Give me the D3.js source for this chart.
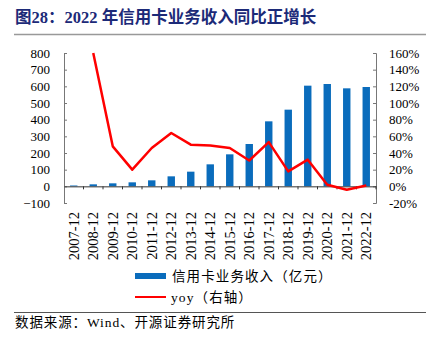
<!DOCTYPE html>
<html><head><meta charset="utf-8">
<script src="https://cdn.jsdelivr.net/npm/d3@7"></script>
<style>
body{margin:0;background:#fff;}
svg{display:block;}
text{font-family:"Times New Roman","Liberation Serif","Noto Sans CJK SC",serif;}
</style></head>
<body><svg id="c" width="432" height="342"></svg>
<script>
const categories = ["2007-12","2008-12","2009-12","2010-12","2011-12","2012-12","2013-12","2014-12","2015-12","2016-12","2017-12","2018-12","2019-12","2020-12","2021-12","2022-12"];
const revenue = [5,12,18,24,36,60,88,132,192,254,390,460,604,614,588,596];
const yoy = [null,160,48,20,46,64,50,49,46,31,53,18,32,2,-4,1];
const leftTicks = [-100,0,100,200,300,400,500,600,700,800];
const rightTicks = [-20,0,20,40,60,80,100,120,140,160];

const svg = d3.select("#c");
const L = 64, R = 376, T = 53, B = 203;

// title
svg.append("text").attr("x",15).attr("y",23).attr("font-size",16.5).attr("font-weight","bold")
  .attr("fill","#1c2a78").text("图28：2022 年信用卡业务收入同比正增长");
svg.append("line").attr("x1",14).attr("x2",426).attr("y1",34.5).attr("y2",34.5).attr("stroke","#999").attr("stroke-width",1.5);

const x = d3.scaleBand().domain(categories).range([L,R]).paddingInner(0.62).paddingOuter(0.31);
const xb = d3.scaleBand().domain(categories).range([L,R]);
const yL = d3.scaleLinear().domain([-100,800]).range([B,T]);
const yR = d3.scaleLinear().domain([-20,160]).range([B,T]);

// bars
svg.append("g").selectAll("rect").data(revenue).join("rect")
  .attr("x",(d,i)=>x(categories[i])).attr("width",x.bandwidth())
  .attr("y",d=>yL(Math.max(0,d))).attr("height",d=>Math.abs(yL(d)-yL(0)))
  .attr("fill","#0a6cbc");

// left axis
const gl = svg.append("g").attr("transform",`translate(${L},0)`)
  .call(d3.axisLeft(yL).tickValues(leftTicks).tickSize(-3).tickPadding(14));
// right axis
const gr = svg.append("g").attr("transform",`translate(${R},0)`)
  .call(d3.axisRight(yR).tickValues(rightTicks).tickSize(-3).tickPadding(13).tickFormat(d=>d+"%"));
[gl,gr].forEach(g=>{
  g.select(".domain").attr("stroke","#777").attr("stroke-width",1);
  g.selectAll(".tick line").attr("stroke","#777");
  g.selectAll(".tick text").attr("font-size",13).attr("fill","#000")
   .style("font-family",'"Times New Roman","Liberation Serif",serif');
});
gr.selectAll(".tick text").attr("text-anchor","start");

// x axis at zero
const gx = svg.append("g").attr("transform",`translate(0,${yL(0)})`)
  .call(d3.axisBottom(xb).tickSize(0).tickFormat(""));
gx.select(".domain").attr("stroke","#333").attr("stroke-width",1);
gx.selectAll(".bt").data(categories.slice(1).concat(["end"])).join("line")
  .attr("x1",(d,i)=>L+xb.step()*(i+1)).attr("x2",(d,i)=>L+xb.step()*(i+1))
  .attr("y1",0).attr("y2",3).attr("stroke","#333");

// x labels
svg.append("g").selectAll("text").data(categories).join("text")
  .attr("transform",d=>`translate(${xb(d)+xb.bandwidth()/2+5},212) rotate(-90)`)
  .attr("text-anchor","end").attr("font-size",14.5).text(d=>d);

// yoy line
const line = d3.line().defined(d=>d!=null)
  .x((d,i)=>xb(categories[i])+xb.bandwidth()/2).y(d=>yR(d));
svg.append("path").datum(yoy).attr("d",line).attr("fill","none")
  .attr("stroke","#ff0000").attr("stroke-width",2.5).attr("stroke-linejoin","round");

// legend
svg.append("rect").attr("x",135).attr("y",273).attr("width",31).attr("height",6).attr("fill","#0a6cbc");
svg.append("text").attr("x",172).attr("y",281).attr("font-size",13.5).attr("letter-spacing",1.1).text("信用卡业务收入（亿元）");
svg.append("line").attr("x1",135).attr("x2",166).attr("y1",297).attr("y2",297).attr("stroke","#ff0000").attr("stroke-width",2);
svg.append("text").attr("x",171).attr("y",302).attr("font-size",13.5).attr("letter-spacing",1.1).text("yoy（右轴）");

svg.append("line").attr("x1",14).attr("x2",426).attr("y1",312.5).attr("y2",312.5).attr("stroke","#555").attr("stroke-width",1);
svg.append("text").attr("x",15).attr("y",327).attr("font-size",13.5).attr("letter-spacing",0.9).text("数据来源：Wind、开源证券研究所");
</script></body></html>
